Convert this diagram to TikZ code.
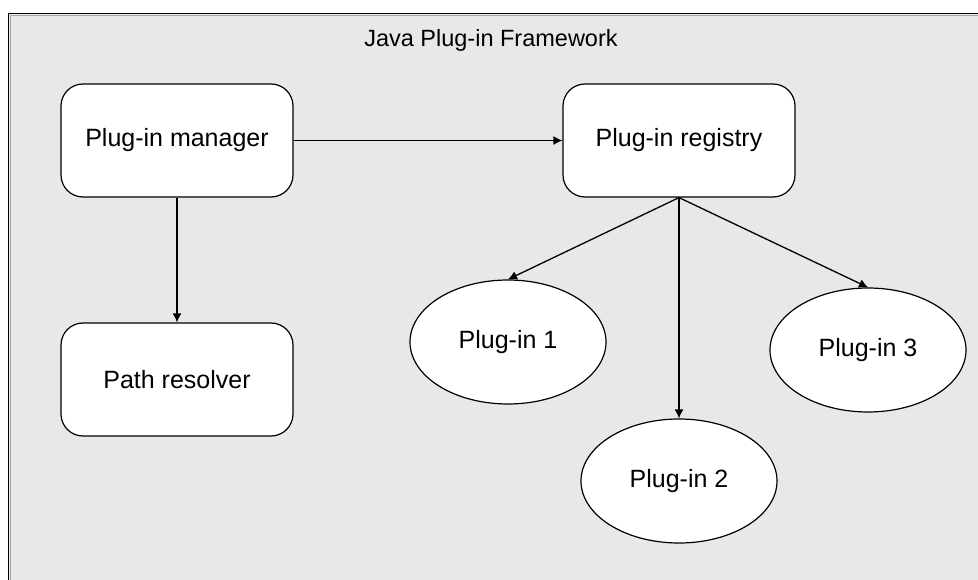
\documentclass[tikz,border=0pt]{standalone}
\usepackage{fontspec}
\setmainfont{Liberation Sans}
\usetikzlibrary{arrows.meta,shapes.geometric}
\definecolor{panelgray}{HTML}{E8E8E8}
\tikzset{
  box/.style={draw, fill=white, rounded corners=22pt, minimum width=232pt,
    minimum height=113pt, line width=1.2pt, inner sep=0pt,
    font=\fontsize{25}{29}\selectfont},
  plug/.style={draw, fill=white, ellipse, minimum width=196pt,
    minimum height=124pt, line width=1.2pt, inner sep=0pt,
    font=\fontsize{25}{29}\selectfont},
  link/.style={line width=1.3pt, -{Latex[length=9pt,width=9pt]}}
}
\begin{document}
\begin{tikzpicture}[x=1pt, y=-1pt]
\useasboundingbox (0,0) rectangle (978,580);
\fill[white] (0,0) rectangle (978,580);
% framework panel, open to the right and bottom
\fill[panelgray] (9,14) rectangle (978,580);
\draw[gray!70, line width=1pt] (10.5,580) -- (10.5,15.5) -- (978,15.5);
\draw[line width=1.5pt] (8.5,580) -- (8.5,13.5) -- (978,13.5);
\node[font=\fontsize{23.5}{27}\selectfont] (title) at (491,40) {Java Plug-in Framework};

\node[box] (mgr) at (177,140.5) {Plug-in manager};
\node[box] (reg) at (679,140.5) {Plug-in registry};
\node[box] (res) at (177,379.5) {Path resolver};
\node[plug] (p1) at (508,342) {Plug-in 1};
\node[plug] (p2) at (679,481) {Plug-in 2};
\node[plug] (p3) at (868,350) {Plug-in 3};

\draw[link] (mgr.east) -- (reg.west);
\draw[link] (mgr.south) -- (res.north);
\draw[link] (reg.south) -- (p1.north);
\draw[link] (reg.south) -- (p2.north);
\draw[link] (reg.south) -- (p3.north);
\end{tikzpicture}
\end{document}
